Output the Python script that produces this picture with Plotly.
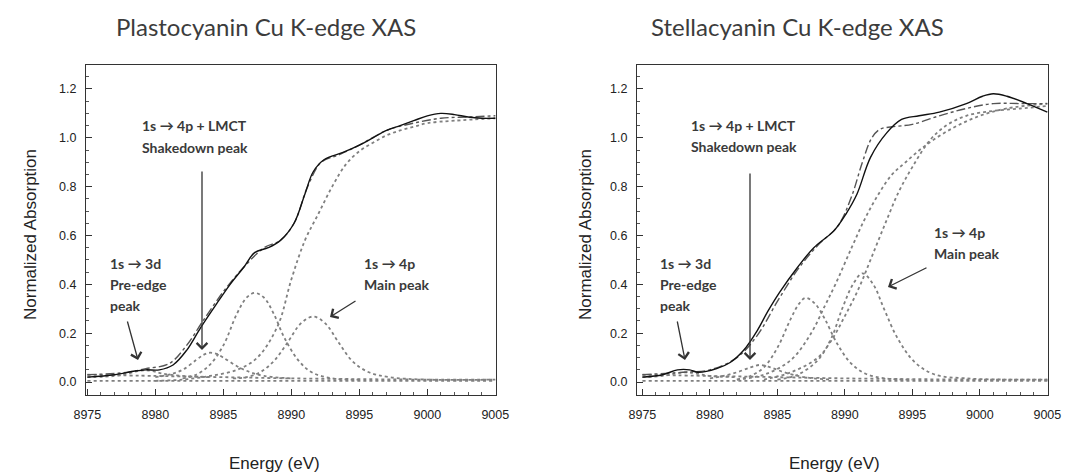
import plotly.graph_objects as go

# ---------------- Plastocyanin (left panel) ----------------
pc_exp_e = [8975, 8977, 8978.5, 8979.3, 8980.3, 8981.3, 8982.3, 8983.3, 8984.5, 8985.5, 8986.5,
            8987.3, 8988.3, 8989.2, 8990.2, 8991.0, 8991.6, 8992.4, 8993.8, 8995, 8996, 8997,
            8998, 8999, 9000, 9001, 9002, 9003, 9004, 9005]
pc_exp_y = [0.02, 0.03, 0.045, 0.05, 0.05, 0.07, 0.13, 0.22, 0.32, 0.4, 0.47,
            0.53, 0.55, 0.58, 0.65, 0.77, 0.86, 0.91, 0.94, 0.97, 1.0, 1.03,
            1.05, 1.07, 1.09, 1.1, 1.095, 1.085, 1.08, 1.08]

pc_fit_e = [8975, 8978, 8979.3, 8981, 8982.3, 8983.5, 8985, 8986.5, 8988, 8989.2, 8990.2,
            8991.2, 8992.2, 8993.5, 8995, 8997, 8999, 9001, 9003, 9005]
pc_fit_y = [0.03, 0.04, 0.055, 0.075, 0.15, 0.25, 0.37, 0.47, 0.55, 0.58, 0.65,
            0.8, 0.9, 0.93, 0.97, 1.03, 1.06, 1.08, 1.085, 1.09]

pc_pre_e = [8975, 8977, 8978, 8978.7, 8979.2, 8979.8, 8980.5, 8982, 8984]
pc_pre_y = [0.02, 0.025, 0.035, 0.045, 0.048, 0.045, 0.035, 0.025, 0.02]

pc_shake_e = [8980, 8981, 8982, 8983, 8983.5, 8984, 8984.5, 8985, 8986, 8987, 8988, 8990]
pc_shake_y = [0.02, 0.03, 0.05, 0.09, 0.11, 0.12, 0.115, 0.1, 0.065, 0.04, 0.025, 0.015]

pc_mid_e = [8982, 8983, 8984, 8985, 8986, 8986.7, 8987.3, 8988, 8988.7, 8989.5, 8990.5,
            8991.5, 8993, 8995]
pc_mid_y = [0.015, 0.03, 0.07, 0.15, 0.28, 0.345, 0.365, 0.345, 0.28, 0.18, 0.09,
            0.04, 0.015, 0.01]

pc_main_e = [8985.7, 8986.7, 8987.7, 8988.7, 8989.7, 8990.7, 8991.6, 8992.5, 8993.5, 8994.5,
             8995.7, 8997.2, 9000, 9005]
pc_main_y = [0.015, 0.02, 0.04, 0.085, 0.16, 0.24, 0.268, 0.24, 0.16, 0.085,
             0.04, 0.02, 0.01, 0.01]

pc_step_e = [8980, 8982, 8984, 8986, 8987.5, 8989, 8990, 8991, 8992, 8993, 8994, 8995,
             8996, 8997, 8998, 8999, 9000, 9002, 9005]
pc_step_y = [0.005, 0.01, 0.025, 0.05, 0.1, 0.23, 0.42, 0.58, 0.69, 0.8, 0.89, 0.945,
             0.98, 1.01, 1.03, 1.045, 1.06, 1.07, 1.08]

pc_base_e = [8975, 8980, 8985, 8990, 8995, 9000, 9005]
pc_base_y = [0.03, 0.025, 0.02, 0.015, 0.012, 0.01, 0.01]

pc_base2_e = [8975, 8980, 8985, 8990, 8995, 9000, 9005]
pc_base2_y = [0.005, 0.005, 0.005, 0.005, 0.005, 0.005, 0.005]

# ---------------- Stellacyanin (right panel) ----------------
sc_exp_e = [8975, 8976.5, 8977.6, 8978.5, 8979.1, 8980.5, 8981.5, 8982.5, 8983.5, 8984.3,
            8985.2, 8986.5, 8987.7, 8989.2, 8990.1, 8990.9, 8991.9, 8993.1, 8994.2, 8995.5,
            8997, 8999, 9000.2, 9001, 9002, 9003.5, 9005]
sc_exp_y = [0.02, 0.03, 0.05, 0.05, 0.04, 0.055, 0.08, 0.13, 0.21, 0.29,
            0.37, 0.47, 0.55, 0.62, 0.69, 0.77, 0.92, 1.02, 1.075, 1.09,
            1.105, 1.14, 1.17, 1.18, 1.17, 1.14, 1.105]

sc_fit_e = [8975, 8978, 8980, 8982, 8983.5, 8985, 8986.5, 8988, 8989.5, 8990.5, 8991.3,
            8992, 8992.6, 8993.5, 8995, 8997, 8999, 9001, 9003, 9005]
sc_fit_y = [0.03, 0.04, 0.05, 0.1, 0.19, 0.33, 0.46, 0.56, 0.64, 0.76, 0.9,
            1.0, 1.035, 1.045, 1.055, 1.09, 1.12, 1.14, 1.14, 1.14]

sc_pre_e = [8975, 8976.5, 8977.5, 8978.3, 8979, 8980, 8982]
sc_pre_y = [0.02, 0.025, 0.035, 0.04, 0.035, 0.025, 0.02]

sc_shake_e = [8980, 8981, 8982, 8983, 8983.7, 8984.5, 8985.5, 8987, 8989]
sc_shake_y = [0.015, 0.025, 0.04, 0.06, 0.07, 0.06, 0.04, 0.02, 0.01]

sc_mid_e = [8982, 8983, 8984, 8985, 8986, 8986.6, 8987.1, 8987.8, 8988.5, 8989.4, 8990.4,
            8991.5, 8993, 8995]
sc_mid_y = [0.01, 0.025, 0.06, 0.14, 0.26, 0.32, 0.345, 0.32, 0.26, 0.16, 0.08,
            0.035, 0.015, 0.01]

sc_main_e = [8985, 8986.5, 8988, 8989, 8989.8, 8990.6, 8991.3, 8992.1, 8992.9, 8993.9, 8995.2,
             8996.7, 8999, 9002, 9005]
sc_main_y = [0.01, 0.03, 0.09, 0.18, 0.3, 0.4, 0.445, 0.4, 0.3, 0.18, 0.08,
             0.03, 0.015, 0.01, 0.01]

# edge steps: an early one and a later one
sc_step_e = [8984, 8986, 8988, 8989, 8990, 8991, 8991.9, 8993, 8994, 8995, 8996.3, 8997.5,
             8999, 9001, 9003, 9005]
sc_step_y = [0.01, 0.04, 0.1, 0.17, 0.27, 0.38, 0.5, 0.65, 0.78, 0.88, 0.99, 1.05,
             1.09, 1.11, 1.12, 1.13]

sc_step2_e = [8982, 8984, 8986, 8987.5, 8988.5, 8989.3, 8990.5, 8991.5, 8992.5, 8993.5,
              8994.5, 8996, 8998, 9000, 9002, 9005]
sc_step2_y = [0.01, 0.03, 0.09, 0.2, 0.31, 0.4, 0.55, 0.67, 0.77, 0.85,
              0.9, 0.97, 1.04, 1.09, 1.12, 1.14]

sc_base_e = [8975, 8980, 8985, 8990, 8995, 9000, 9005]
sc_base_y = [0.03, 0.025, 0.02, 0.015, 0.012, 0.01, 0.01]

sc_base2_e = [8975, 8980, 8985, 8990, 8995, 9000, 9005]
sc_base2_y = [0.005, 0.005, 0.005, 0.005, 0.005, 0.005, 0.005]

x_ticks = [8975, 8980, 8985, 8990, 8995, 9000, 9005]
y_ticks = [0.0, 0.2, 0.4, 0.6, 0.8, 1.0, 1.2]
y_tick_text = ["0.0", "0.2", "0.4", "0.6", "0.8", "1.0", "1.2"]

EXP_STYLE = dict(color="#111111", width=1.4)
FIT_STYLE = dict(color="#555555", width=1.4, dash="dashdot")
COMP_STYLE = dict(color="#808080", width=1.8, dash="dot")

W, H = 1073, 474

fig = go.Figure()


def add_panel(xa, ya, exp, fit, comps):
    for e, y in comps:
        fig.add_trace(go.Scatter(x=e, y=y, mode="lines", line=dict(COMP_STYLE, shape="spline"),
                                 xaxis=xa, yaxis=ya, showlegend=False, hoverinfo="skip"))
    fig.add_trace(go.Scatter(x=fit[0], y=fit[1], mode="lines", line=dict(FIT_STYLE, shape="spline"),
                             xaxis=xa, yaxis=ya, showlegend=False))
    fig.add_trace(go.Scatter(x=exp[0], y=exp[1], mode="lines", line=dict(EXP_STYLE, shape="spline"),
                             xaxis=xa, yaxis=ya, showlegend=False))


add_panel("x", "y", (pc_exp_e, pc_exp_y), (pc_fit_e, pc_fit_y),
          [(pc_base_e, pc_base_y), (pc_base2_e, pc_base2_y), (pc_pre_e, pc_pre_y),
           (pc_shake_e, pc_shake_y), (pc_mid_e, pc_mid_y), (pc_main_e, pc_main_y),
           (pc_step_e, pc_step_y)])
add_panel("x2", "y2", (sc_exp_e, sc_exp_y), (sc_fit_e, sc_fit_y),
          [(sc_base_e, sc_base_y), (sc_base2_e, sc_base2_y), (sc_pre_e, sc_pre_y),
           (sc_shake_e, sc_shake_y), (sc_mid_e, sc_mid_y), (sc_main_e, sc_main_y),
           (sc_step_e, sc_step_y), (sc_step2_e, sc_step2_y)])

TICK_FONT = dict(family="Liberation Sans, Arial, sans-serif", size=12.5, color="#222222")


def x_axis(domain, anchor, rng):
    return dict(domain=domain, anchor=anchor, range=rng,
                tickvals=x_ticks, ticks="inside", ticklen=6, tickcolor="#333",
                minor=dict(ticks="inside", dtick=1, ticklen=3, tickcolor="#555"),
                showline=True, linecolor="#333", linewidth=1.2, mirror=True,
                showgrid=False, zeroline=False, tickfont=TICK_FONT, ticklabelstandoff=8)


def y_axis(domain, anchor):
    return dict(domain=domain, anchor=anchor, range=[-0.053, 1.298],
                tickvals=y_ticks, ticktext=y_tick_text, ticks="inside", ticklen=6,
                tickcolor="#333",
                minor=dict(ticks="inside", dtick=0.05, ticklen=3, tickcolor="#555"),
                showline=True, linecolor="#333", linewidth=1.2, mirror=True,
                showgrid=False, zeroline=False, tickfont=TICK_FONT, ticklabelstandoff=6)


Y_DOM = [1 - 395 / H, 1 - 65 / H]
fig.update_layout(
    width=W, height=H, margin=dict(l=0, r=0, t=0, b=0, autoexpand=False),
    paper_bgcolor="white", plot_bgcolor="white",
    xaxis=x_axis([86 / W, 496 / W], "y", [8974.9, 9005.05]),
    yaxis=y_axis(Y_DOM, "x"),
    xaxis2=x_axis([637 / W, 1048 / W], "y2", [8974.6, 9005.05]),
    yaxis2=y_axis(Y_DOM, "x2"),
)

TITLE_FONT = dict(family="Lato, Open Sans, sans-serif", size=24, color="#3c3c3c")
LABEL_FONT = dict(family="Lato, Open Sans, sans-serif", size=14, color="#3a3a3a", weight="bold")
AXIS_FONT = dict(family="Liberation Sans, Arial, sans-serif", size=17, color="#222222")


def paper_text(txt, px, py, font, angle=0, xanchor="center"):
    return dict(text=txt, x=px / W, y=1 - py / H, xref="paper", yref="paper",
                xanchor=xanchor, yanchor="middle", showarrow=False, textangle=angle, font=font)


annotations = [
    paper_text("Plastocyanin Cu K-edge XAS", 266, 27, TITLE_FONT),
    paper_text("Stellacyanin Cu K-edge XAS", 797, 27, TITLE_FONT),
    paper_text("Normalized Absorption", 30, 235, AXIS_FONT, angle=-90),
    paper_text("Normalized Absorption", 585, 235, AXIS_FONT, angle=-90),
    paper_text("Energy (eV)", 274, 463, AXIS_FONT),
    paper_text("Energy (eV)", 834, 463, AXIS_FONT),
]

# peak labels, one line each: (text, left edge px, centre y px)
label_lines = [
    ("1s → 4p + LMCT", 140, 125), ("Shakedown peak", 140, 147),
    ("1s → 3d", 108, 263), ("Pre-edge", 108, 284), ("peak", 108, 305),
    ("1s → 4p", 362, 263), ("Main peak", 362, 284),
    ("1s → 4p + LMCT", 689, 125), ("Shakedown peak", 689, 146),
    ("1s → 3d", 658, 263), ("Pre-edge", 658, 284), ("peak", 658, 305),
    ("1s → 4p", 932, 232), ("Main peak", 932, 253),
]
for txt, px, py in label_lines:
    annotations.append(paper_text(txt, px, py, LABEL_FONT, xanchor="left"))

# pointer arrows: (tail x, tail y, head x, head y) in px
arrows = [
    (202, 170, 202, 350),
    (127, 320, 138, 360),
    (357, 300, 330, 317),
    (750, 172, 750, 360),
    (677, 320, 685, 360),
    (928, 267, 888, 287),
]
for tx, ty, hx, hy in arrows:
    annotations.append(dict(x=hx / W, y=1 - hy / H, xref="paper", yref="paper",
                            ax=tx - hx, ay=ty - hy, axref="pixel", ayref="pixel",
                            text="", showarrow=True, arrowhead=4, arrowsize=1.6,
                            arrowwidth=1.3, arrowcolor="#333333"))

fig.update_layout(annotations=annotations)

fig.write_html("out.html")
